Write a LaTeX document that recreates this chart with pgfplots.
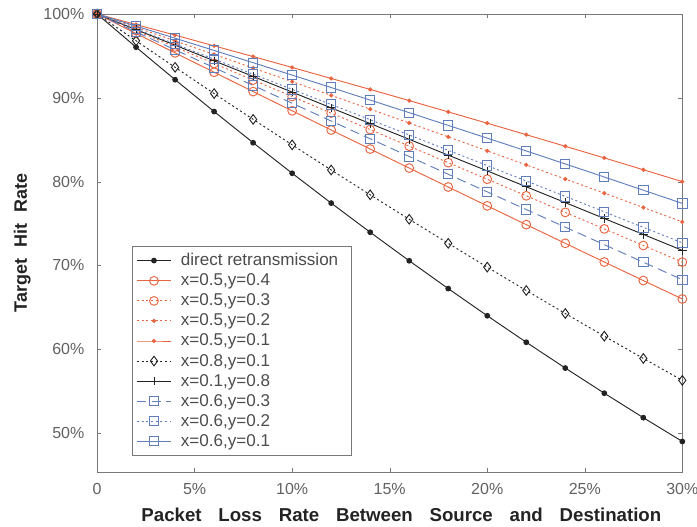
\documentclass[border=0pt]{standalone}
\usepackage{pgfplots}
\pgfplotsset{compat=1.18}
\usepackage{pgfplotstable}
\usepackage{fontspec}
\setmainfont{Liberation Sans}

\definecolor{ored}{RGB}{232,100,64}
\definecolor{sblue}{RGB}{96,126,188}
\definecolor{dk}{RGB}{35,35,35}
\definecolor{axgray}{RGB}{120,120,120}
\newcommand{\w}{\hspace{0.9em}}
\newcommand{\wy}{\hspace{0.6em}}

% p = packet loss rate (%), hit rates in %
\pgfplotstableread{
p  direct a     b     c     e     f     g     h     i     j
0  100    100   100   100   100   100   100   100   100   100
2  96.04  97.67 98.03 98.40 98.74 96.80 98.14 97.86 98.21 98.56
4  92.16  95.36 96.06 96.79 97.48 93.64 96.28 95.73 96.42 97.11
6  88.36  93.05 94.09 95.18 96.20 90.51 94.41 93.60 94.62 95.65
8  84.64  90.74 92.12 93.55 94.92 87.43 92.55 91.47 92.82 94.19
10 81.00  88.45 90.15 91.93 93.62 84.39 90.68 89.35 91.01 92.71
12 77.44  86.16 88.18 90.29 92.31 81.39 88.80 87.23 89.20 91.23
14 73.96  83.89 86.21 88.65 91.00 78.43 86.93 85.11 87.39 89.73
16 70.56  81.62 84.23 87.00 89.67 75.51 85.05 83.00 85.57 88.23
18 67.24  79.36 82.26 85.34 88.32 72.64 83.16 80.88 83.74 86.71
20 64.00  77.11 80.29 83.67 86.97 69.80 81.28 78.78 81.91 85.19
22 60.84  74.87 78.31 81.99 85.60 67.01 79.39 76.67 80.08 83.66
24 57.76  72.64 76.33 80.31 84.22 64.27 77.50 74.57 78.24 82.11
26 54.76  70.41 74.36 78.62 82.83 61.56 75.60 72.48 76.40 80.55
28 51.84  68.20 72.38 76.91 81.42 58.91 73.70 70.39 74.55 78.98
30 49.00  66.00 70.40 75.20 80.00 56.29 71.80 68.30 72.70 77.40
}\hit

\begin{document}
\begin{tikzpicture}
\begin{axis}[
    name=ax,
    scale only axis, width=439pt, height=343.6pt,
    xmin=0, xmax=30, ymin=45.35, ymax=100,
    xtick={0,5,...,30}, xticklabels={0,5\%,10\%,15\%,20\%,25\%,30\%},
    ytick={50,60,...,100}, yticklabels={50\%,60\%,70\%,80\%,90\%,100\%},
    tick align=inside, major tick length=3pt,
    axis line style={axgray}, tick style={axgray},
    ticklabel style={font=\fontsize{12}{14}\selectfont, text=black!62},
    yticklabel style={xshift=-6pt},
    xticklabel style={yshift=-5pt},
    xlabel={Packet\w Loss\w Rate\w Between\w Source\w and\w Destination},
    ylabel={Target\wy Hit\wy Rate},
    xlabel style={font=\fontsize{14}{16}\selectfont\bfseries, text=dk,
        at={(axis description cs:0.52,-0.093)}, anchor=center},
    ylabel style={font=\fontsize{13.5}{15}\selectfont\bfseries, text=dk,
        at={(axis description cs:-0.1276,0.5)}, anchor=center},
    clip=false,
    every axis plot/.append style={line width=0.7pt},
    legend style={at={(0.06,0.037)}, anchor=south west, draw=axgray,
        font=\fontsize{12.8}{15}\selectfont, text=black!70, row sep=0.6pt,
        cells={anchor=west}, inner sep=3pt, nodes={inner xsep=7pt}},
    legend image code/.code={\draw[mark repeat=2,mark phase=2]
        plot coordinates {(0cm,0cm) (0.45cm,0cm) (0.9cm,0cm)};},
]
\addplot[dk, mark=*, mark size=1.8pt] table[x=p, y=direct] {\hit};
\addplot[ored, mark=o, mark size=3.3pt] table[x=p, y=a] {\hit};
\addplot[ored, dash pattern=on 1.5pt off 2pt, mark=o, mark size=3.3pt, mark options={solid}] table[x=p, y=b] {\hit};
\addplot[ored, dash pattern=on 1.5pt off 2pt, mark=*, mark size=1.2pt, mark options={solid}] table[x=p, y=c] {\hit};
\addplot[ored, mark=*, mark size=1.2pt] table[x=p, y=e] {\hit};
\addplot[dk, dash pattern=on 1.5pt off 2pt, mark=diamond, mark size=3.6pt, mark options={solid}] table[x=p, y=f] {\hit};
\addplot[dk, mark=+, mark size=3.2pt] table[x=p, y=g] {\hit};
\addplot[sblue, dash pattern=on 7pt off 4pt, mark=square, mark size=3.5pt, mark options={solid}] table[x=p, y=h] {\hit};
\addplot[sblue, dash pattern=on 1.5pt off 2pt, mark=square, mark size=3.5pt, mark options={solid}] table[x=p, y=i] {\hit};
\addplot[sblue, mark=square, mark size=3.5pt] table[x=p, y=j] {\hit};
\legend{direct retransmission, {x=0.5,y=0.4}, {x=0.5,y=0.3}, {x=0.5,y=0.2},
    {x=0.5,y=0.1}, {x=0.8,y=0.1}, {x=0.1,y=0.8}, {x=0.6,y=0.3},
    {x=0.6,y=0.2}, {x=0.6,y=0.1}}
\end{axis}
\pgfresetboundingbox
\path ([shift={(-72.8pt,-41pt)}]ax.south west) rectangle ([shift={(11pt,10.5pt)}]ax.north east);
\end{tikzpicture}
\end{document}
